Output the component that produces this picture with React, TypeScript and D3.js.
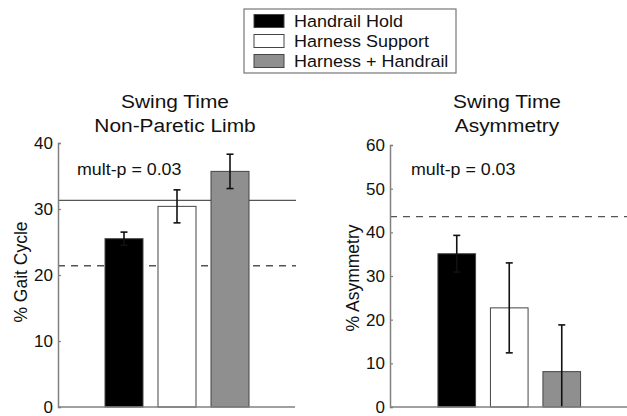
import React, { useRef, useEffect } from 'react';
import * as d3 from 'd3';

// conditions (legend order)
const categories = ['Handrail Hold', 'Harness Support', 'Harness + Handrail'];
const barColors = ['#000000', '#ffffff', '#8f8f8f'];

// left panel: swing time, non-paretic limb (% gait cycle)
const nonPareticMean = [25.5, 30.4, 35.7];
const nonPareticErr = [1.0, 2.5, 2.6];
const nonPareticSolidRef = 31.3;
const nonPareticDashedRef = 21.4;
const nonPareticTicks = [0, 10, 20, 30, 40];

// right panel: swing time asymmetry (%)
const asymMean = [35.1, 22.7, 8.1];
const asymErr = [4.2, 10.3, 10.7];
const asymDashedRef = 43.6;
const asymTicks = [0, 10, 20, 30, 40, 50, 60];

const W = 627;
const H = 416;
const FONT = 'Liberation Sans, Arial, sans-serif';
const AXIS_COLOR = '#808080';
const SX = 1.08; // the original figure is a bit stretched sideways

type Panel = {
  title: string[];
  titleX: number;
  yLabel: string;
  yLabelX: number;
  yLabelY: number;
  axisX: number;
  axisEnd: number;
  yTop: number;
  yMax: number;
  ticks: number[];
  bandStart: number;
  bandStep: number;
  mean: number[];
  err: number[];
  solidRef?: number;
  dashedRef: number;
  refEnd: number;
  pX: number;
};

const panels: Panel[] = [
  {
    title: ['Swing Time', 'Non-Paretic Limb'],
    titleX: 175,
    yLabel: '% Gait Cycle',
    yLabelX: 27,
    yLabelY: 272,
    axisX: 58,
    axisEnd: 295,
    yTop: 143,
    yMax: 40,
    ticks: nonPareticTicks,
    bandStart: 97.5,
    bandStep: 53,
    mean: nonPareticMean,
    err: nonPareticErr,
    solidRef: nonPareticSolidRef,
    dashedRef: nonPareticDashedRef,
    refEnd: 296,
    pX: 77,
  },
  {
    title: ['Swing Time', 'Asymmetry'],
    titleX: 507,
    yLabel: '% Asymmetry',
    yLabelX: 359,
    yLabelY: 278,
    axisX: 390,
    axisEnd: 627,
    yTop: 145,
    yMax: 60,
    ticks: asymTicks,
    bandStart: 430.5,
    bandStep: 52.5,
    mean: asymMean,
    err: asymErr,
    dashedRef: asymDashedRef,
    refEnd: 627,
    pX: 411,
  },
];

const App: React.FC = () => {
  const svgRef = useRef<SVGSVGElement | null>(null);

  useEffect(() => {
    const svg = d3.select(svgRef.current);
    svg.selectAll('*').remove();
    const y0 = 407;

    // stretched text helper
    const label = (
      parent: d3.Selection<SVGGElement, unknown, null, undefined>,
      x: number,
      y: number,
      txt: string,
      size: number,
      anchor = 'start',
      sx = SX
    ) =>
      parent.append('text')
        .attr('transform', `translate(${x},${y}) scale(${sx},1)`)
        .attr('text-anchor', anchor)
        .attr('font-family', FONT)
        .attr('font-size', size)
        .attr('fill', '#111')
        .text(txt);

    panels.forEach((p) => {
      const g = svg.append('g');
      const y = d3.scaleLinear().domain([0, p.yMax]).range([y0, p.yTop]);
      const x = d3
        .scaleBand()
        .domain(categories)
        .range([p.bandStart, p.bandStart + 3 * p.bandStep])
        .paddingInner(0.283)
        .paddingOuter(0.1415);

      // title
      p.title.forEach((t, i) => label(g, p.titleX, 108 + i * 24, t, 19, 'middle', 1.1));

      // reference lines
      if (p.solidRef !== undefined) {
        g.append('line')
          .attr('x1', p.axisX).attr('x2', p.refEnd)
          .attr('y1', y(p.solidRef)).attr('y2', y(p.solidRef))
          .attr('stroke', '#555').attr('stroke-width', 1.3);
      }
      g.append('line')
        .attr('x1', p.axisX).attr('x2', p.refEnd)
        .attr('y1', y(p.dashedRef)).attr('y2', y(p.dashedRef))
        .attr('stroke', '#555').attr('stroke-width', 1.3)
        .attr('stroke-dasharray', '7 6');

      // bars
      g.selectAll('rect.bar')
        .data(p.mean)
        .enter()
        .append('rect')
        .attr('class', 'bar')
        .attr('x', (_, i) => x(categories[i])!)
        .attr('y', (d) => y(d))
        .attr('width', x.bandwidth())
        .attr('height', (d) => y0 - y(d))
        .attr('fill', (_, i) => barColors[i])
        .attr('stroke', '#444')
        .attr('stroke-width', 1);

      // error bars
      const eg = g.selectAll('g.err')
        .data(p.mean)
        .enter()
        .append('g')
        .attr('class', 'err');
      const cx = (i: number) => x(categories[i])! + x.bandwidth() / 2;
      eg.append('line')
        .attr('x1', (_, i) => cx(i)).attr('x2', (_, i) => cx(i))
        .attr('y1', (d, i) => y(Math.max(0, d - p.err[i])))
        .attr('y2', (d, i) => y(d + p.err[i]))
        .attr('stroke', '#111').attr('stroke-width', 1.6);
      eg.append('line')
        .attr('x1', (_, i) => cx(i) - 3.5).attr('x2', (_, i) => cx(i) + 3.5)
        .attr('y1', (d, i) => y(d + p.err[i])).attr('y2', (d, i) => y(d + p.err[i]))
        .attr('stroke', '#111').attr('stroke-width', 1.6);
      eg.filter((d, i) => d - p.err[i] > 0)
        .append('line')
        .attr('x1', (_, i) => cx(i) - 3.5).attr('x2', (_, i) => cx(i) + 3.5)
        .attr('y1', (d, i) => y(d - p.err[i])).attr('y2', (d, i) => y(d - p.err[i]))
        .attr('stroke', '#111').attr('stroke-width', 1.6);

      // axes
      const yAxis = g.append('g')
        .attr('transform', `translate(${p.axisX},0)`)
        .call(d3.axisLeft(y).tickValues(p.ticks).tickSize(-3).tickPadding(5).tickFormat(d3.format('d')));
      yAxis.select('.domain').attr('stroke', AXIS_COLOR).attr('stroke-width', 1.5);
      yAxis.selectAll('.tick line').attr('stroke', AXIS_COLOR).attr('stroke-width', 1.2);
      yAxis.selectAll('.tick text')
        .attr('font-family', FONT).attr('font-size', 17).attr('fill', '#111');
      g.append('line')
        .attr('x1', p.axisX).attr('x2', p.axisEnd)
        .attr('y1', y0).attr('y2', y0)
        .attr('stroke', AXIS_COLOR).attr('stroke-width', 1.5);

      // y label
      g.append('text')
        .attr('transform', `translate(${p.yLabelX},${p.yLabelY}) rotate(-90)`)
        .attr('text-anchor', 'middle')
        .attr('font-family', FONT)
        .attr('font-size', 17.5)
        .attr('fill', '#111')
        .text(p.yLabel);

      // p value
      label(g, p.pX, 175, 'mult-p = 0.03', 16.5);
    });

    // legend
    const lg = svg.append('g');
    lg.append('rect')
      .attr('x', 244).attr('y', 9).attr('width', 212).attr('height', 64)
      .attr('fill', '#fff').attr('stroke', '#777').attr('stroke-width', 1.2);
    categories.forEach((c, i) => {
      lg.append('rect')
        .attr('x', 254).attr('y', 14.5 + i * 20).attr('width', 30).attr('height', 13)
        .attr('fill', barColors[i]).attr('stroke', '#444').attr('stroke-width', 1);
      label(lg as any, 294, 27 + i * 20, c, 16.5, 'start', 1.09);
    });
  }, []);

  return (
    <svg
      ref={svgRef}
      width={W}
      height={H}
      style={{ position: 'absolute', left: 0, top: 0, background: '#fff' }}
    />
  );
};

export default App;
